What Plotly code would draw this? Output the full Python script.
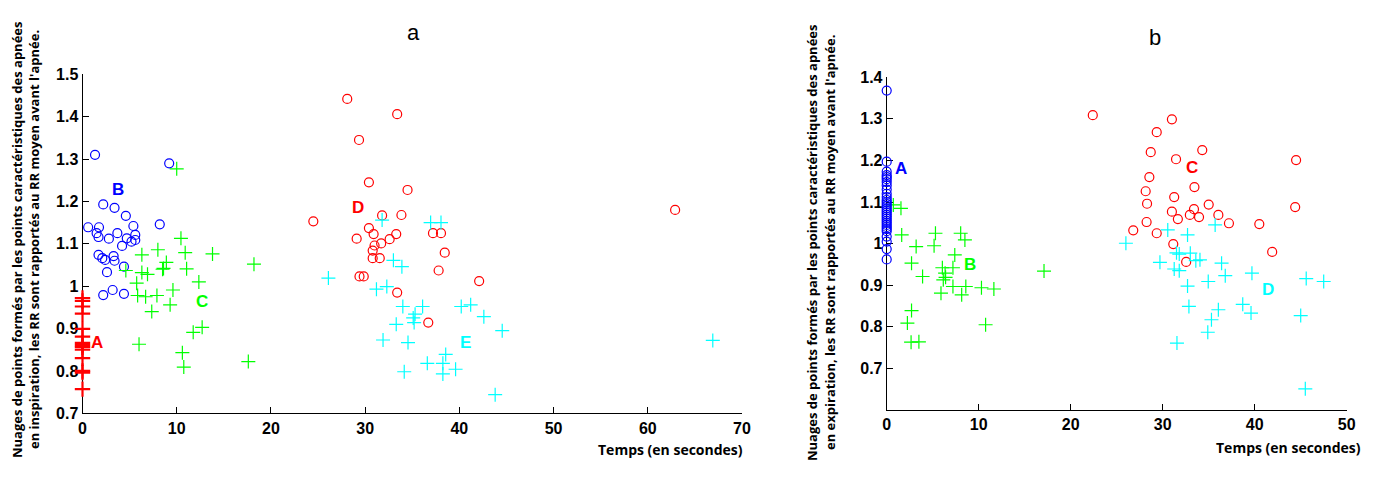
import plotly.graph_objects as go

# ---------------- Panel a (inspiration) ----------------
vA_a = [0.972, 0.965, 0.952, 0.935, 0.899, 0.881, 0.866, 0.861, 0.856, 0.85, 0.83, 0.80, 0.796, 0.757]
tA_a = [0.0] * len(vA_a)

tB_a = [1.33, 9.2, 2.2, 3.4, 4.6, 8.2, 0.6, 1.75, 5.4, 1.5, 3.7, 1.7, 2.8, 4.7, 5.6, 5.6, 5.2, 4.2,
        1.7, 2.1, 2.4, 3.3, 3.4, 2.6, 4.4, 2.2, 3.2, 4.4]
vB_a = [1.31, 1.29, 1.193, 1.185, 1.166, 1.146, 1.139, 1.139, 1.142, 1.125, 1.125, 1.116, 1.112, 1.113,
        1.121, 1.109, 1.105, 1.095, 1.074, 1.066, 1.062, 1.071, 1.06, 1.033, 1.046, 0.979, 0.991, 0.982]

tC_a = [10.0, 10.45, 6.3, 8.0, 10.9, 13.8, 18.2, 8.9, 8.6, 8.5, 4.6, 6.3, 6.9, 11.05, 5.75, 12.35, 9.6,
        5.85, 6.7, 7.9, 9.3, 7.35, 11.75, 12.7, 6.0, 10.6, 10.75, 17.6]
vC_a = [1.277, 1.113, 1.074, 1.086, 1.079, 1.076, 1.052, 1.056, 1.042, 1.04, 1.037, 1.032, 1.028, 1.041,
        1.007, 1.01, 0.991, 0.978, 0.975, 0.978, 0.956, 0.94, 0.891, 0.903, 0.863, 0.843, 0.809, 0.822]

tD_a = [28.1, 33.4, 29.35, 30.4, 34.5, 24.5, 31.8, 33.85, 30.4, 30.9, 33.3, 37.2, 38.05, 29.1, 31.7, 32.6,
        31.0, 30.8, 30.8, 31.55, 38.45, 37.8, 29.4, 29.85, 42.1, 33.4, 36.7, 62.9]
vD_a = [1.442, 1.406, 1.345, 1.245, 1.227, 1.153, 1.167, 1.168, 1.137, 1.123, 1.123, 1.125, 1.125, 1.112,
        1.101, 1.111, 1.096, 1.084, 1.066, 1.066, 1.079, 1.037, 1.023, 1.023, 1.012, 0.985, 0.914, 1.18]

tE_a = [31.8, 36.95, 38.05, 33.0, 33.9, 26.1, 31.2, 32.3, 34.0, 36.1, 40.2, 41.2, 35.3, 35.1, 35.2, 33.3,
        42.6, 44.55, 31.9, 34.55, 38.55, 36.6, 38.25, 39.6, 38.25, 34.15, 43.8, 66.9]
vE_a = [1.156, 1.15, 1.15, 1.061, 1.046, 1.019, 0.993, 0.999, 0.952, 0.952, 0.952, 0.956, 0.934, 0.925,
        0.914, 0.91, 0.928, 0.895, 0.873, 0.867, 0.839, 0.818, 0.818, 0.804, 0.793, 0.798, 0.744, 0.872]

# ---------------- Panel b (expiration) ----------------
vA_b = [1.368, 1.197, 1.173, 1.165, 1.16, 1.155, 1.148, 1.14, 1.13, 1.12, 1.112, 1.105, 1.1, 1.095, 1.09,
        1.085, 1.08, 1.075, 1.07, 1.065, 1.06, 1.055, 1.05, 1.045, 1.04, 1.035, 1.03, 1.017, 1.005, 0.987, 0.962]
tA_b = [0.0] * len(vA_b)

tB_b = [0.72, 1.55, 1.63, 5.3, 8.04, 8.5, 5.15, 3.2, 7.4, 2.7, 6.05, 7.2, 6.35, 6.4, 6.15, 3.9, 17.1, 7.2,
        8.6, 10.3, 11.65, 5.9, 8.15, 2.7, 2.25, 10.75, 2.65, 3.5]
vB_b = [1.093, 1.085, 1.021, 1.025, 1.025, 1.009, 0.995, 0.993, 0.973, 0.953, 0.942, 0.942, 0.929, 0.919,
        0.913, 0.921, 0.934, 0.897, 0.897, 0.894, 0.891, 0.881, 0.877, 0.839, 0.809, 0.805, 0.763, 0.764]

tC_b = [22.4, 31.0, 29.35, 28.7, 34.3, 31.45, 44.5, 28.55, 33.45, 28.15, 31.25, 28.3, 35.0, 44.4, 31.0, 33.4,
        32.95, 33.95, 36.05, 31.65, 37.2, 40.5, 28.25, 26.8, 29.35, 31.15, 41.9, 32.55]
vC_b = [1.309, 1.299, 1.268, 1.22, 1.225, 1.203, 1.201, 1.16, 1.136, 1.126, 1.112, 1.096, 1.094, 1.088,
        1.077, 1.083, 1.069, 1.064, 1.069, 1.059, 1.049, 1.047, 1.052, 1.032, 1.025, 0.999, 0.98, 0.956]

tD_b = [26.0, 30.55, 32.7, 35.7, 29.7, 31.5, 31.8, 33.0, 33.6, 34.05, 36.4, 31.25, 31.8, 36.8, 39.7, 34.95,
        32.7, 45.6, 47.5, 32.85, 36.05, 38.7, 39.6, 35.3, 45.0, 34.9, 31.55, 45.5]
vD_b = [1.001, 1.033, 1.021, 1.045, 0.955, 0.978, 0.975, 0.977, 0.959, 0.961, 0.953, 0.939, 0.935, 0.923,
        0.929, 0.909, 0.898, 0.916, 0.909, 0.849, 0.841, 0.854, 0.833, 0.817, 0.827, 0.787, 0.761, 0.651]

# Cluster labels (text, x, y, colour)
labels_a = [("A", 1.55, 0.868, "#ff0000"), ("B", 3.8, 1.227, "#0000ff"), ("C", 12.7, 0.963, "#00ff00"),
            ("D", 29.2, 1.185, "#ff0000"), ("E", 40.7, 0.868, "#00ffff")]
labels_b = [("A", 1.6, 1.181, "#0000ff"), ("B", 9.05, 0.949, "#00ff00"), ("C", 33.2, 1.183, "#ff0000"),
            ("D", 41.4, 0.889, "#00ffff")]

xt_a = [0, 10, 20, 30, 40, 50, 60, 70]
xtl_a = ["0", "10", "20", "30", "40", "50", "60", "70"]
yt_a = [0.7, 0.8, 0.9, 1.0, 1.1, 1.2, 1.3, 1.4, 1.5]
ytl_a = ["0.7", "0.8", "0.9", "1", "1.1", "1.2", "1.3", "1.4", "1.5"]
xt_b = [0, 10, 20, 30, 40, 50]
xtl_b = ["0", "10", "20", "30", "40", "50"]
yt_b = [0.7, 0.8, 0.9, 1.0, 1.1, 1.2, 1.3, 1.4]
ytl_b = ["0.7", "0.8", "0.9", "1", "1.1", "1.2", "1.3", "1.4"]

OFF = 8  # page body margin
W, H = 1379 - 2 * OFF, 491 - 2 * OFF
BLUE, RED, GREEN, CYAN = "#0000ff", "#ff0000", "#00ff00", "#00ffff"


def px(x):
    return (x - OFF) / W


def py(y):
    return 1 - (y - OFF) / H


def bold(lst):
    return ["<b>%s</b>" % s for s in lst]


def circ(x, y, color, xa, ya):
    return go.Scatter(x=x, y=y, mode="markers", xaxis=xa, yaxis=ya, cliponaxis=False,
                      marker=dict(symbol="circle-open", size=9, color=color, line=dict(width=1.2, color=color)),
                      showlegend=False, hoverinfo="x+y")


def plus(x, y, color, xa, ya, w=1.2, size=10):
    return go.Scatter(x=x, y=y, mode="markers", xaxis=xa, yaxis=ya, cliponaxis=False,
                      marker=dict(symbol="cross-thin", size=size, color=color, line=dict(width=w, color=color)),
                      showlegend=False, hoverinfo="x+y")


fig = go.Figure()
fig.add_trace(circ(tB_a, vB_a, BLUE, "x", "y"))
fig.add_trace(plus(tC_a, vC_a, GREEN, "x", "y"))
fig.add_trace(circ(tD_a, vD_a, RED, "x", "y"))
fig.add_trace(plus(tE_a, vE_a, CYAN, "x", "y"))
fig.add_trace(plus(tA_a, vA_a, RED, "x", "y", w=2.2, size=11))

fig.add_trace(plus(tB_b, vB_b, GREEN, "x2", "y2"))
fig.add_trace(circ(tC_b, vC_b, RED, "x2", "y2"))
fig.add_trace(plus(tD_b, vD_b, CYAN, "x2", "y2"))
fig.add_trace(circ(tA_b, vA_b, BLUE, "x2", "y2"))

TICKFONT = dict(family="Liberation Sans, Arial, sans-serif", size=16, color="black")
axis_common = dict(showline=True, linecolor="black", linewidth=1, ticks="inside", ticklen=6,
                   tickcolor="black", tickwidth=1, showgrid=False, zeroline=False, tickfont=TICKFONT,
                   fixedrange=True, automargin=False, layer="below traces")

fig.update_layout(
    template="none",
    width=W, height=H, paper_bgcolor="white", plot_bgcolor="white",
    margin=dict(l=0, r=0, t=0, b=0, pad=0, autoexpand=False),
    xaxis=dict(domain=[px(82.5), px(742)], range=[0, 70], tickvals=xt_a, ticktext=bold(xtl_a), anchor="y",
               **axis_common),
    yaxis=dict(domain=[py(413.3), py(74.3)], range=[0.7, 1.5], tickvals=yt_a, ticktext=bold(ytl_a),
               anchor="x", **axis_common),
    xaxis2=dict(domain=[px(886.7), px(1346.7)], range=[0, 50], tickvals=xt_b, ticktext=bold(xtl_b), anchor="y2",
                **axis_common),
    yaxis2=dict(domain=[py(410), py(77.3)], range=[0.6, 1.4], tickvals=yt_b, ticktext=bold(ytl_b),
                anchor="x2", **axis_common),
)

ann = []
for txt, x, y, c in labels_a:
    ann.append(dict(text="<b>%s</b>" % txt, x=x, y=y, xref="x", yref="y", showarrow=False,
                    xanchor="center", yanchor="middle",
                    font=dict(family="Liberation Sans, Arial, sans-serif", size=17, color=c)))
for txt, x, y, c in labels_b:
    ann.append(dict(text="<b>%s</b>" % txt, x=x, y=y, xref="x2", yref="y2", showarrow=False,
                    xanchor="center", yanchor="middle",
                    font=dict(family="Liberation Sans, Arial, sans-serif", size=17, color=c)))


def paper_text(text, x, y, font, xanchor="center", angle=0):
    return dict(text=text, x=px(x), y=py(y), xref="paper", yref="paper", showarrow=False,
                xanchor=xanchor, yanchor="middle", textangle=angle, font=font)


TITLE_FONT = dict(family="Liberation Sans, Arial, sans-serif", size=22, color="black")
ann.append(paper_text("a", 413, 33, TITLE_FONT))
ann.append(paper_text("b", 1155, 38, TITLE_FONT))

YT_FONT = dict(family="Open Sans, sans-serif", size=13, color="black")
line1 = "<b>Nuages de points formés par les points caractéristiques des apnées</b>"
ann.append(paper_text(line1, 17, 240, YT_FONT, angle=-90))
ann.append(paper_text("<b>en inspiration, les RR sont rapportés au RR moyen avant l'apnée.</b>", 34, 240,
                      YT_FONT, angle=-90))
ann.append(paper_text(line1, 812, 243, YT_FONT, angle=-90))
ann.append(paper_text("<b>en expiration, les RR sont rapportés au RR moyen avant l'apnée.</b>", 830, 243,
                      YT_FONT, angle=-90))

XT_FONT = dict(family="Open Sans, sans-serif", size=14, color="black")
ann.append(paper_text("<b>Temps (en secondes)</b>", 745, 449, XT_FONT, xanchor="right"))
ann.append(paper_text("<b>Temps (en secondes)</b>", 1363, 447, XT_FONT, xanchor="right"))

fig.update_layout(annotations=ann)
fig.write_html("out.html")
